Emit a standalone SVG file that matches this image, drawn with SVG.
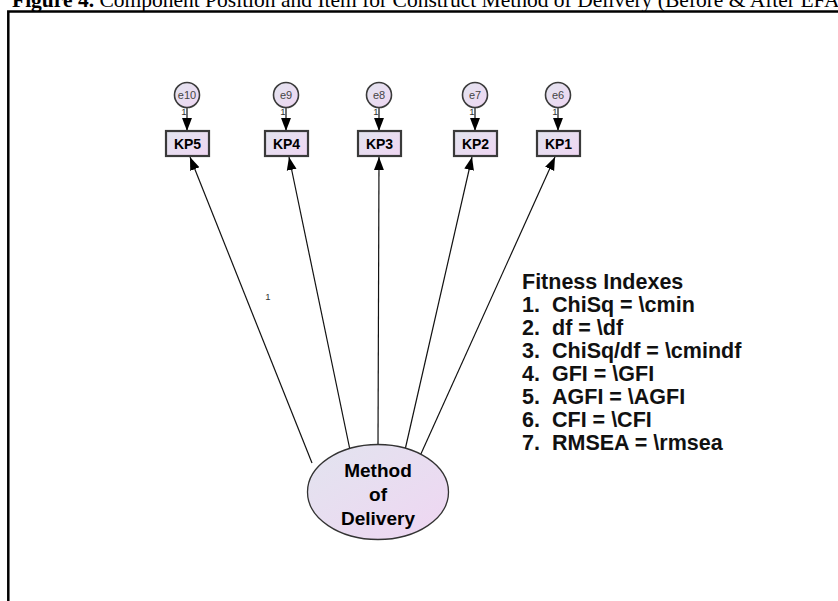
<svg xmlns="http://www.w3.org/2000/svg" width="838" height="601" viewBox="0 0 838 601">
<defs>
<linearGradient id="g" x1="0" y1="0" x2="1" y2="1">
<stop offset="0" stop-color="#e2e4ef"/>
<stop offset="1" stop-color="#efd6f2"/>
</linearGradient>
<marker id="ah" viewBox="0 0 10 10" refX="10" refY="5" markerWidth="13" markerHeight="13" markerUnits="userSpaceOnUse" orient="auto"><path d="M0,1.2 L10,5 L0,8.8 z" fill="#000"/></marker>
</defs>
<style>
.box{fill:url(#g);stroke:#3a3a3a;stroke-width:2.2}
.err{fill:url(#g);stroke:#3a3a3a;stroke-width:1.6}
.lat{fill:url(#g);stroke:#333;stroke-width:1.3}
.et{font-family:"Liberation Sans",Arial,sans-serif;font-size:11px;fill:#444;text-anchor:middle}
.bt{font-family:"Liberation Sans",Arial,sans-serif;font-size:14px;font-weight:bold;fill:#000;text-anchor:middle}
.lt{font-family:"Liberation Sans",Arial,sans-serif;font-size:19px;font-weight:bold;fill:#000;text-anchor:middle}
.one{font-family:"Liberation Sans",Arial,sans-serif;font-size:9.5px;fill:#333;text-anchor:middle}
.fit{font-family:"Liberation Sans",Arial,sans-serif;font-size:21.5px;font-weight:bold;fill:#111}
.conn line{stroke:#111;stroke-width:1.2}
</style>
<rect width="838" height="601" fill="#fff"/>
<text x="12" y="7" font-family="'Liberation Serif','Times New Roman',serif" font-size="21.5" fill="#000"><tspan font-weight="bold">Figure 4.</tspan> Component Position and Item for Construct Method of Delivery (Before &amp; After EFA)</text>
<path d="M8.3,601 V11.5 H838" fill="none" stroke="#000" stroke-width="2.5"/>
<g class="conn">
<line x1="187" y1="107.5" x2="187" y2="131" marker-end="url(#ah)"/>
<line x1="286" y1="107.5" x2="286" y2="131" marker-end="url(#ah)"/>
<line x1="379" y1="107.5" x2="379" y2="131" marker-end="url(#ah)"/>
<line x1="475" y1="107.5" x2="475" y2="131" marker-end="url(#ah)"/>
<line x1="558" y1="107.5" x2="558" y2="131" marker-end="url(#ah)"/>
<line x1="312" y1="463" x2="190" y2="157" marker-end="url(#ah)"/>
<line x1="350" y1="450" x2="289" y2="157" marker-end="url(#ah)"/>
<line x1="378" y1="446" x2="379" y2="157" marker-end="url(#ah)"/>
<line x1="405" y1="450" x2="472" y2="157" marker-end="url(#ah)"/>
<line x1="420" y1="456" x2="555" y2="157" marker-end="url(#ah)"/>
</g>
<text class="one" x="268" y="300">1</text>
<g id="e10"><circle class="err" cx="187" cy="95" r="12.5"/><text class="et" x="187" y="99">e10</text><text class="one" x="184" y="115">1</text></g>
<g id="e9"><circle class="err" cx="286" cy="95" r="12.5"/><text class="et" x="286" y="99">e9</text><text class="one" x="283" y="115">1</text></g>
<g id="e8"><circle class="err" cx="379" cy="95" r="12.5"/><text class="et" x="379" y="99">e8</text><text class="one" x="376" y="115">1</text></g>
<g id="e7"><circle class="err" cx="475" cy="95" r="12.5"/><text class="et" x="475" y="99">e7</text><text class="one" x="472" y="115">1</text></g>
<g id="e6"><circle class="err" cx="558" cy="95" r="12.5"/><text class="et" x="558" y="99">e6</text><text class="one" x="555" y="115">1</text></g>
<g id="KP5"><rect class="box" x="166" y="131" width="43" height="25"/><text class="bt" x="187.5" y="149">KP5</text></g>
<g id="KP4"><rect class="box" x="265" y="131" width="43" height="25"/><text class="bt" x="286.5" y="149">KP4</text></g>
<g id="KP3"><rect class="box" x="358" y="131" width="43" height="25"/><text class="bt" x="379.5" y="149">KP3</text></g>
<g id="KP2"><rect class="box" x="454" y="131" width="43" height="25"/><text class="bt" x="475.5" y="149">KP2</text></g>
<g id="KP1"><rect class="box" x="537" y="131" width="43" height="25"/><text class="bt" x="558.5" y="149">KP1</text></g>
<g id="MethodOfDelivery"><ellipse class="lat" cx="378" cy="492" rx="70.5" ry="47.5"/>
<text class="lt" x="378" y="477">Method</text><text class="lt" x="378" y="501">of</text><text class="lt" x="378" y="525">Delivery</text></g>
<g id="fitness" class="fit">
<text x="522" y="289">Fitness Indexes</text>
<text y="312"><tspan x="522">1.</tspan><tspan x="552">ChiSq = \cmin</tspan></text>
<text y="335"><tspan x="522">2.</tspan><tspan x="552">df = \df</tspan></text>
<text y="358"><tspan x="522">3.</tspan><tspan x="552">ChiSq/df = \cmindf</tspan></text>
<text y="381"><tspan x="522">4.</tspan><tspan x="552">GFI = \GFI</tspan></text>
<text y="404"><tspan x="522">5.</tspan><tspan x="552">AGFI = \AGFI</tspan></text>
<text y="427"><tspan x="522">6.</tspan><tspan x="552">CFI = \CFI</tspan></text>
<text y="450"><tspan x="522">7.</tspan><tspan x="552">RMSEA = \rmsea</tspan></text>
</g>
</svg>
